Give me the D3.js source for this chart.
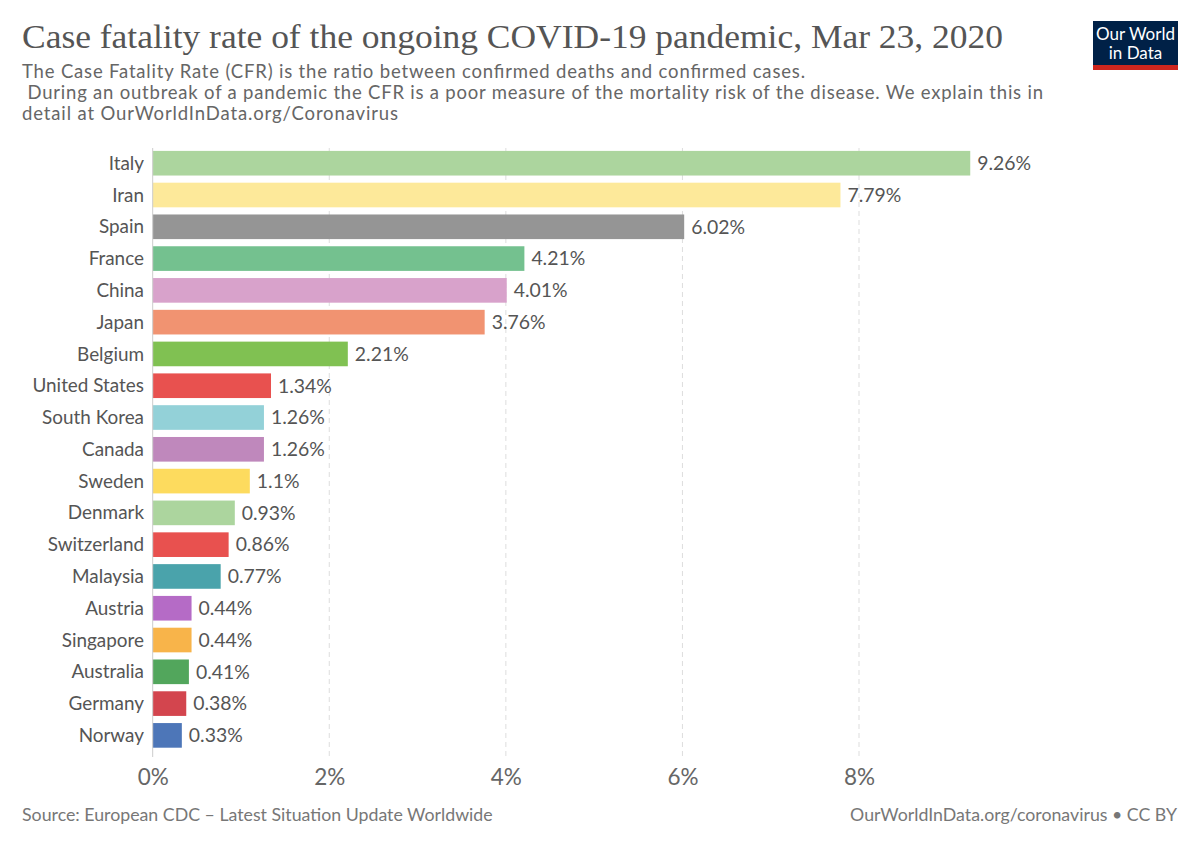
<!DOCTYPE html>
<html><head><meta charset="utf-8">
<script src="https://cdn.jsdelivr.net/npm/d3@7"></script>
<style>body{margin:0;background:#fff}svg{display:block}</style>
</head><body>
<svg id="c" width="1200" height="847"></svg>
<script>
const countries = ["Italy","Iran","Spain","France","China","Japan","Belgium","United States","South Korea","Canada","Sweden","Denmark","Switzerland","Malaysia","Austria","Singapore","Australia","Germany","Norway"];
const cfr = [9.26,7.79,6.02,4.21,4.01,3.76,2.21,1.34,1.26,1.26,1.1,0.93,0.86,0.77,0.44,0.44,0.41,0.38,0.33];
const barColors = ["#acd59e","#fde99a","#959595","#74c18f","#d8a2cb","#f19371","#80c152","#e8514f","#93d1d8","#bf88bc","#fddb5e","#acd59e","#e8514f","#4aa3ab","#b56bc6","#f8b44a","#52a65c","#d3454e","#4d76b8"];
const xTicks = [0,2,4,6,8];
const titleText = "Case fatality rate of the ongoing COVID-19 pandemic, Mar 23, 2020";
const subtitleLines = ["The Case Fatality Rate (CFR) is the ratio between confirmed deaths and confirmed cases.",
  " During an outbreak of a pandemic the CFR is a poor measure of the mortality risk of the disease. We explain this in",
  "detail at OurWorldInData.org/Coronavirus"];
const subtitleWidths = [783, 1021, 376];
const sourceText = "Source: European CDC – Latest Situation Update Worldwide";
const creditText = "OurWorldInData.org/coronavirus • CC BY";

const svg = d3.select("#c");
const sans = "Lato, 'Noto Sans', sans-serif";

svg.append("text").attr("x",22).attr("y",48).attr("font-family","'Liberation Serif','DejaVu Serif',serif")
  .attr("font-size",33).attr("fill","#555").attr("textLength",981).attr("lengthAdjust","spacingAndGlyphs").text(titleText);
subtitleLines.forEach((l,i)=>{
  svg.append("text").attr("x",22).attr("y",78+i*21).attr("font-family",sans).attr("font-size",18.5)
    .attr("fill","#666").attr("textLength",subtitleWidths[i]).style("white-space","pre").text(l);
});

// logo
const logo = svg.append("g");
logo.append("rect").attr("x",1093).attr("y",21).attr("width",85).attr("height",49).attr("fill","#002147");
logo.append("rect").attr("x",1093).attr("y",65).attr("width",85).attr("height",5).attr("fill","#ce261e");
logo.append("text").attr("x",1135.5).attr("y",40).attr("text-anchor","middle").attr("font-family",sans).attr("font-size",17).attr("fill","#fff").text("Our World");
logo.append("text").attr("x",1135.5).attr("y",59).attr("text-anchor","middle").attr("font-family",sans).attr("font-size",17).attr("fill","#fff").text("in Data");

const x = d3.scaleLinear().domain([0,8]).range([152.7,859]);
const y = d3.scaleBand().domain(countries).range([147.4,751.2]).paddingInner(0.225).paddingOuter(0.11);

// gridlines
svg.append("g").selectAll("line").data(xTicks.slice(1)).join("line")
  .attr("x1",d=>x(d)).attr("x2",d=>x(d)).attr("y1",148).attr("y2",757)
  .attr("stroke","#ddd").attr("stroke-dasharray","5,4").attr("stroke-width",1);

svg.append("g").selectAll("rect").data(countries).join("rect")
  .attr("x",x(0)).attr("y",d=>y(d)).attr("width",(d,i)=>x(cfr[i])-x(0)).attr("height",y.bandwidth())
  .attr("fill",(d,i)=>barColors[i]);

svg.append("line").attr("x1",x(0)).attr("x2",x(0)).attr("y1",148).attr("y2",757).attr("stroke","#ccc");

svg.append("g").selectAll("text").data(countries).join("text")
  .attr("x",144).attr("y",d=>y(d)+y.bandwidth()/2).attr("dy","0.35em").attr("text-anchor","end")
  .attr("font-family",sans).attr("font-size",18.9).attr("fill","#555").text(d=>d);

svg.append("g").selectAll("text").data(countries).join("text")
  .attr("x",(d,i)=>x(cfr[i])+7).attr("y",d=>y(d)+y.bandwidth()/2).attr("dy","0.35em")
  .attr("font-family",sans).attr("font-size",19.4).attr("fill","#555").text((d,i)=>cfr[i]+"%");

// x axis
const ax = svg.append("g").attr("transform","translate(0,757)")
  .call(d3.axisBottom(x).tickValues(xTicks).tickFormat(d=>d+"%").tickSize(0).tickPadding(12));
ax.select(".domain").remove();
ax.selectAll("text").attr("font-family",sans).attr("font-size",22.5).attr("fill","#666");

svg.append("text").attr("x",22).attr("y",821).attr("font-family",sans).attr("font-size",17.75).attr("fill","#777").text(sourceText);
svg.append("text").attr("x",1177).attr("y",821).attr("text-anchor","end").attr("font-family",sans).attr("font-size",17.75).attr("fill","#777").text(creditText);
</script>
</body></html>
